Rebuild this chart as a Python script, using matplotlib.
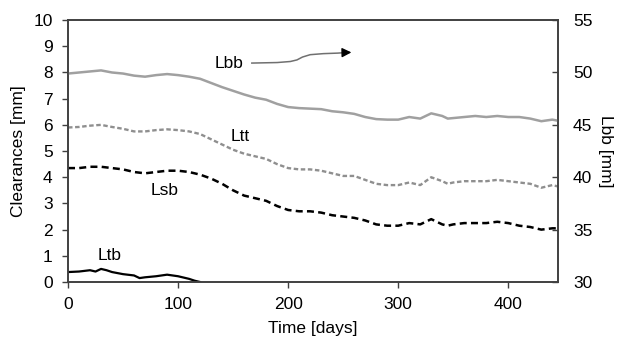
import numpy as np
import matplotlib.pyplot as plt

plt.rcParams['font.family'] = ['Liberation Sans', 'DejaVu Sans']

# days for the three long series
days = [0, 10, 20, 30, 40, 50, 60, 70, 80, 90, 100, 110, 120, 130, 140, 150,
        160, 170, 180, 190, 200, 210, 220, 230, 240, 250, 260, 270, 280, 290,
        300, 310, 320, 330, 340, 345, 350, 360, 370, 380, 390, 400, 410, 420,
        430, 440, 445]

# Lbb in mm (right axis)
lbb = [49.9, 50.0, 50.1, 50.2, 50.0, 49.9, 49.7, 49.6, 49.75, 49.85, 49.75,
       49.6, 49.4, 49.0, 48.6, 48.25, 47.9, 47.6, 47.4, 47.0, 46.7, 46.6,
       46.55, 46.5, 46.3, 46.2, 46.05, 45.75, 45.55, 45.5, 45.5, 45.75, 45.6,
       46.1, 45.85, 45.6, 45.65, 45.75, 45.85, 45.75, 45.85, 45.75, 45.75,
       45.6, 45.35, 45.5, 45.4]

ltt = [5.9, 5.92, 5.97, 6.0, 5.92, 5.85, 5.75, 5.75, 5.8, 5.83, 5.8, 5.75,
       5.65, 5.45, 5.25, 5.05, 4.9, 4.8, 4.7, 4.5, 4.35, 4.3, 4.3, 4.25, 4.15,
       4.05, 4.05, 3.9, 3.75, 3.7, 3.7, 3.8, 3.7, 4.0, 3.85, 3.75, 3.8, 3.85,
       3.85, 3.85, 3.9, 3.85, 3.8, 3.75, 3.6, 3.7, 3.65]

lsb = [4.35, 4.35, 4.4, 4.4, 4.35, 4.3, 4.2, 4.15, 4.2, 4.25, 4.25, 4.2, 4.1,
       3.95, 3.75, 3.5, 3.3, 3.2, 3.1, 2.9, 2.75, 2.7, 2.7, 2.65, 2.55, 2.5,
       2.45, 2.35, 2.2, 2.15, 2.15, 2.25, 2.2, 2.4, 2.2, 2.15, 2.2, 2.25, 2.25,
       2.25, 2.3, 2.25, 2.15, 2.1, 2.0, 2.05, 2.05]

days_tb = [0, 10, 20, 25, 30, 35, 40, 50, 60, 65, 70, 75, 80, 90, 95, 100,
           110, 115, 120]
ltb = [0.38, 0.4, 0.45, 0.4, 0.5, 0.45, 0.38, 0.3, 0.25, 0.15, 0.18, 0.2,
       0.22, 0.28, 0.25, 0.22, 0.12, 0.05, 0.0]

fs = 12.5
fig = plt.figure(figsize=(6.2, 3.41), dpi=100)
ax = fig.add_axes([0.1097, 0.173, 0.790, 0.768])
ax2 = ax.twinx()

spine_col = '#404040'
ax.plot(days, ltt, color='#8f8f8f', lw=1.7, ls=(0, (1.9, 1.1)))
ax.plot(days, lsb, color='black', lw=1.8, ls=(0, (2.8, 1.7)))
ax.plot(days_tb, ltb, color='black', lw=1.6)
ax2.plot(days, lbb, color='#a0a0a0', lw=1.8)

ax.set_xlim(0, 445)
ax.set_ylim(0, 10)
ax2.set_ylim(30, 55)
ax.set_xticks([0, 100, 200, 300, 400])
ax.set_yticks(range(0, 11))
ax2.set_yticks([30, 35, 40, 45, 50, 55])

for a in (ax, ax2):
    for s in a.spines.values():
        s.set_color(spine_col)
        s.set_linewidth(1.2)
ax.tick_params(axis='both', labelsize=fs, direction='out', length=4,
               color=spine_col, width=1, pad=7)
ax2.tick_params(axis='y', labelsize=fs, direction='in', length=4,
                color=spine_col, width=1, pad=11)

ax.set_xlabel('Time [days]', fontsize=fs, labelpad=6)
ax.set_ylabel('Clearances [mm]', fontsize=fs, labelpad=5)
ax2.set_ylabel('Lbb [mm]', fontsize=fs, rotation=270, va='bottom', labelpad=4)

# labels
ax.text(146, 8.36, 'Lbb', fontsize=fs, ha='center', va='center')
ax.text(156, 5.57, 'Ltt', fontsize=fs, ha='center', va='center')
ax.text(88, 3.51, 'Lsb', fontsize=fs, ha='center', va='center')
ax.text(38, 1.03, 'Ltb', fontsize=fs, ha='center', va='center')

# arrow pointing to right axis
arr_x = [167, 190, 202, 208, 213, 220, 232, 245, 252]
arr_y = [8.36, 8.38, 8.42, 8.48, 8.59, 8.68, 8.72, 8.74, 8.76]
ax.plot(arr_x, arr_y, color='#707070', lw=1.1)
ax.annotate('', xy=(260, 8.77), xytext=(250, 8.76),
            arrowprops=dict(arrowstyle='-|>', color='black', lw=1,
                            mutation_scale=14))

fig.savefig('out.png', dpi=100)
